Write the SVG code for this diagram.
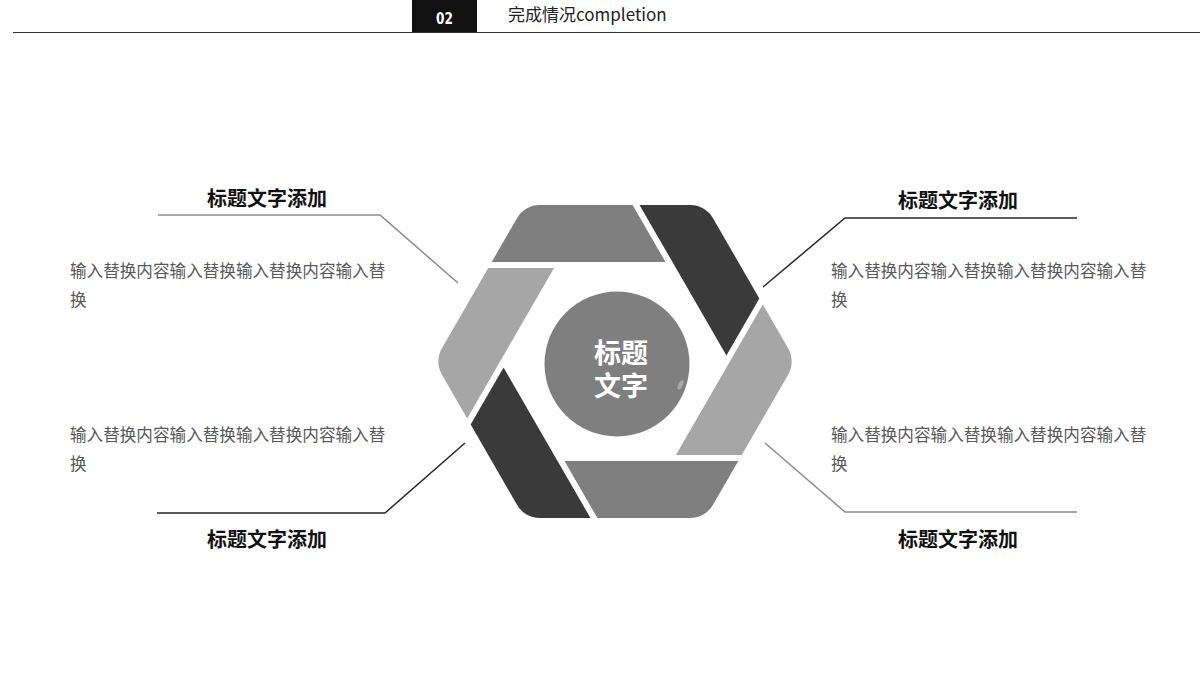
<svg xmlns="http://www.w3.org/2000/svg" xmlns:xlink="http://www.w3.org/1999/xlink" width="1200" height="685" viewBox="0 0 1200 685">
<style>
.title{font-family:"Noto Sans CJK SC","Liberation Sans",sans-serif;font-size:20px;font-weight:bold;fill:#111;text-anchor:middle}
.body{font-family:"Noto Sans CJK SC","Liberation Sans",sans-serif;font-size:16.6px;fill:#595959}
.conn{fill:none;stroke-width:1.5}
.gray{stroke:#8c8c8c}
.dark{stroke:#262626}
</style>
<defs>
<path id="band" d="M -97.85,-143.5 A 26 26 0 0 1 -75.35,-156.5 L 17.6,-156.5 L 50.5,-99.5 L -123.3,-99.5 Z"/>
</defs>
<rect width="1200" height="685" fill="#ffffff"/>
<g id="header">
<rect x="412" y="0" width="65" height="32" fill="#111111"/>
<text x="444.5" y="22.5" font-family="'DejaVu Sans Condensed','DejaVu Sans','Liberation Sans',sans-serif" font-size="15" font-weight="bold" fill="#ffffff" text-anchor="middle" transform="translate(444.5 0) scale(0.9 1.05) translate(-444.5 0)">02</text>
<text x="508" y="21" font-family="'Noto Sans CJK SC','Liberation Sans',sans-serif" font-size="17" fill="#222222">完成情况completion</text>
<line x1="13" y1="32.5" x2="1200" y2="32.5" stroke="#333333" stroke-width="1"/>
</g>
<g id="hexagon">
<use xlink:href="#band" href="#band" transform="translate(615,361.5) rotate(0)" fill="#7f7f7f"/>
<use xlink:href="#band" href="#band" transform="translate(615,361.5) rotate(60)" fill="#3a3a3a"/>
<use xlink:href="#band" href="#band" transform="translate(615,361.5) rotate(120)" fill="#a6a6a6"/>
<use xlink:href="#band" href="#band" transform="translate(615,361.5) rotate(180)" fill="#7f7f7f"/>
<use xlink:href="#band" href="#band" transform="translate(615,361.5) rotate(240)" fill="#3a3a3a"/>
<use xlink:href="#band" href="#band" transform="translate(615,361.5) rotate(300)" fill="#a6a6a6"/>
</g>
<g id="center">
<circle cx="617" cy="364" r="72.5" fill="#7f7f7f"/>
<ellipse cx="680.5" cy="385" rx="2.2" ry="5" transform="rotate(25 680.5 385)" fill="#a8a8a8"/>
<text font-family="'Noto Sans CJK SC','Liberation Sans',sans-serif" font-size="27" font-weight="bold" fill="#ffffff" text-anchor="middle"><tspan x="621" y="363">标题</tspan><tspan x="621" y="396">文字</tspan></text>
</g>
<g id="connectors">
<polyline class="conn gray" points="158,215 380,215 458,283"/>
<polyline class="conn dark" points="157,513 385,513 465,443"/>
<polyline class="conn dark" points="1077,218 845,218 763,287"/>
<polyline class="conn gray" points="765,443 845,512 1077,512"/>
</g>
<g id="item-top-left">
<text class="title" x="267" y="206">标题文字添加</text>
<text class="body" x="70" y="277">输入替换内容输入替换输入替换内容输入替</text>
<text class="body" x="70" y="306">换</text>
</g>
<g id="item-bottom-left">
<text class="body" x="70" y="441">输入替换内容输入替换输入替换内容输入替</text>
<text class="body" x="70" y="470">换</text>
<text class="title" x="267" y="547">标题文字添加</text>
</g>
<g id="item-top-right">
<text class="title" x="958" y="208">标题文字添加</text>
<text class="body" x="831" y="277">输入替换内容输入替换输入替换内容输入替</text>
<text class="body" x="831" y="306">换</text>
</g>
<g id="item-bottom-right">
<text class="body" x="831" y="441">输入替换内容输入替换输入替换内容输入替</text>
<text class="body" x="831" y="470">换</text>
<text class="title" x="958" y="547">标题文字添加</text>
</g>
</svg>
